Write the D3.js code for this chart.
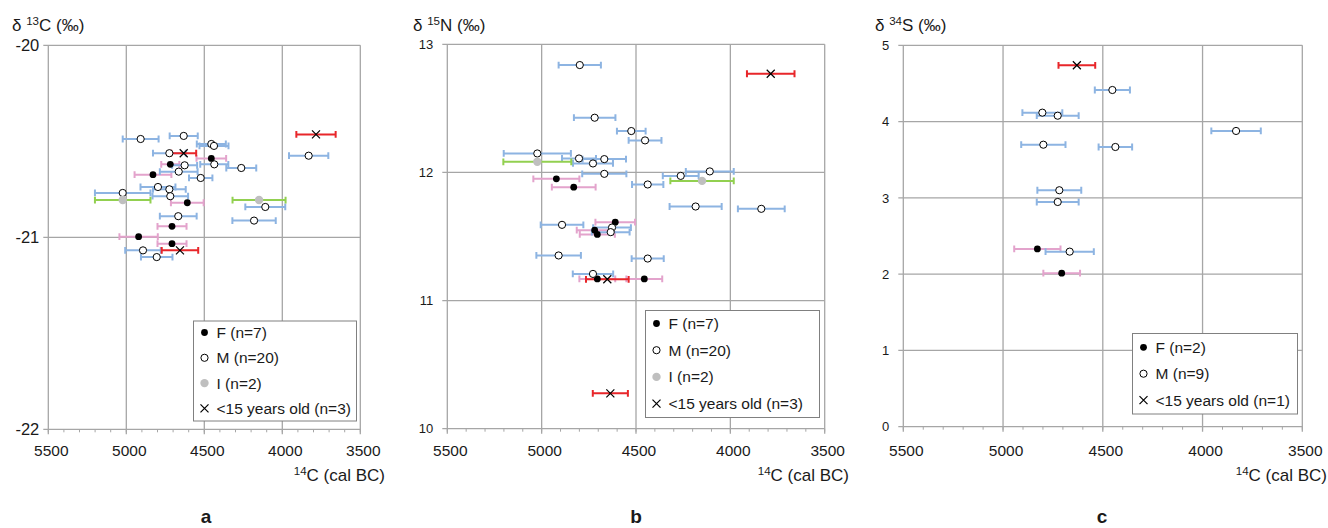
<!DOCTYPE html>
<html>
<head>
<meta charset="utf-8">
<script src="https://cdn.jsdelivr.net/npm/d3@7"></script>
<style>
  body { margin: 0; background: #fff; }
  text { font-family: "Liberation Sans", Arial, sans-serif; fill: #1a1a1a; }
</style>
</head>
<body>
<div id="chart"></div>
<script>
// Isotope values against radiocarbon dates, three panels (a, b, c).
// Each point is [cal BC, value, half-width of the date range].

////////////////////////////////////////////////////////////////////////
// Panel a: d13C

let c13F = [[4455, -20.589, 95], [4718, -20.62, 58], [4829, -20.674, 118],
            [4609, -20.82, 105], [4707, -20.943, 93], [4921, -20.997, 123],
            [4707, -21.033, 93]];
let c13M = [[4908, -20.488, 115], [4632, -20.472, 90], [4455, -20.514, 93],
            [4438, -20.524, 93], [4724, -20.562, 105], [3831, -20.575, 126],
            [4626, -20.625, 80], [4436, -20.62, 90], [4263, -20.639, 96],
            [4664, -20.658, 121], [4523, -20.691, 75], [4797, -20.738, 112],
            [4724, -20.75, 105], [5023, -20.769, 178], [4718, -20.786, 114],
            [4109, -20.842, 128], [4667, -20.89, 118], [4181, -20.913, 139],
            [4893, -21.068, 114], [4805, -21.103, 101]];
let c13I = [[5023, -20.806, 178], [4149, -20.806, 170]];
let c13X = [[3784, -20.464, 126], [4632, -20.562, 80], [4656, -21.068, 117]];

////////////////////////////////////////////////////////////////////////
// Panel b: d15N

let n15F = [[4922, 11.95, 122], [4830, 11.885, 116], [4610, 11.612, 105],
            [4719, 11.549, 95], [4705, 11.516, 93], [4705, 11.169, 95],
            [4456, 11.169, 95]];
let n15M = [[4798, 12.838, 112], [4719, 12.427, 110], [4525, 12.323, 76],
            [4452, 12.25, 87], [5023, 12.148, 178], [4802, 12.109, 90],
            [4668, 12.104, 115], [4728, 12.07, 106], [4668, 11.989, 117],
            [4109, 12.008, 127], [4263, 11.973, 95], [4438, 11.906, 83],
            [4184, 11.734, 138], [3836, 11.716, 124], [4892, 11.591, 113],
            [4627, 11.57, 100], [4634, 11.534, 100], [4910, 11.352, 118],
            [4438, 11.328, 85], [4728, 11.208, 107]];
let n15I = [[5023, 12.083, 180], [4150, 11.934, 168]];
let n15X = [[3786, 12.77, 126], [4652, 11.166, 113], [4636, 10.276, 93]];

////////////////////////////////////////////////////////////////////////
// Panel c: d34S

let s34F = [[4828, 2.33, 116], [4706, 2.012, 92]];
let s34M = [[4452, 4.414, 88], [4803, 4.117, 100], [4726, 4.077, 105],
            [3832, 3.877, 124], [4798, 3.697, 111], [4437, 3.667, 84],
            [4718, 3.1, 110], [4726, 2.946, 105], [4666, 2.295, 121]];
let s34X = [[4630, 4.738, 92]];

// tick values and legend labels
let xTicks = [5500, 5000, 4500, 4000, 3500];
let xMinor = d3.range(5500, 3499, -100);
let c13Ticks = [-20, -21, -22];
let n15Ticks = [10, 11, 12, 13];
let s34Ticks = [0, 1, 2, 3, 4, 5];
let legendA = ["F (n=7)", "M (n=20)", "I (n=2)", "<15 years old (n=3)"];
let legendB = ["F (n=7)", "M (n=20)", "I (n=2)", "<15 years old (n=3)"];
let legendC = ["F (n=2)", "M (n=9)", "<15 years old (n=1)"];

////////////////////////////////////////////////////////////////////////

let barColor = { F: "#e3a3cc", M: "#8db4e2", I: "#92d050", X: "#e8262a" };
let gridColor = "#a6a6a6";

let svg = d3.select("#chart").append("svg")
  .attr("width", 1328).attr("height", 528);

// draw a marker of a given group at (x, y)
function drawMarker(g, kind, x, y) {
  if (kind === "F") {
    g.append("circle").attr("cx", x).attr("cy", y).attr("r", 3.4).attr("fill", "#000");
  } else if (kind === "M") {
    g.append("circle").attr("cx", x).attr("cy", y).attr("r", 3.6)
      .attr("fill", "#fff").attr("stroke", "#000").attr("stroke-width", 1);
  } else if (kind === "I") {
    g.append("circle").attr("cx", x).attr("cy", y).attr("r", 4.2).attr("fill", "#bfbfbf");
  } else {
    let s = 4;
    g.append("path")
      .attr("d", `M${x - s},${y - s}L${x + s},${y + s}M${x - s},${y + s}L${x + s},${y - s}`)
      .attr("stroke", "#000").attr("stroke-width", 1.2).attr("fill", "none");
  }
}

// text with a superscript part: [pre, sup, post]
function supText(g, x, y, parts, size, anchor) {
  let t = g.append("text").attr("x", x).attr("y", y)
    .attr("font-size", size).attr("text-anchor", anchor || "start");
  t.append("tspan").text(parts[0]);
  t.append("tspan").attr("font-size", size * 0.68).attr("dy", -size * 0.38).text(parts[1]);
  t.append("tspan").attr("dy", size * 0.38).text(parts[2]);
  return t;
}

function makePanel(p) {
  let g = svg.append("g");

  let xScale = d3.scaleLinear().domain([5500, 3500]).range([p.left, p.right]);
  let yScale = d3.scaleLinear().domain(p.yDomain).range([p.bottom, p.top]);

  // grid lines + frame
  g.append("g").selectAll("line").data(xTicks).enter().append("line")
    .attr("x1", d => xScale(d)).attr("x2", d => xScale(d))
    .attr("y1", p.top).attr("y2", p.bottom + 5)
    .attr("stroke", gridColor).attr("stroke-width", 1.3);
  g.append("g").selectAll("line").data(p.yTicks).enter().append("line")
    .attr("x1", p.left - 5).attr("x2", p.right)
    .attr("y1", d => yScale(d)).attr("y2", d => yScale(d))
    .attr("stroke", gridColor).attr("stroke-width", 1.3);

  // minor ticks under the x axis
  g.append("g").selectAll("line").data(xMinor).enter().append("line")
    .attr("x1", d => xScale(d)).attr("x2", d => xScale(d))
    .attr("y1", p.bottom).attr("y2", p.bottom + 3)
    .attr("stroke", gridColor).attr("stroke-width", 1);

  // tick labels
  g.append("g").selectAll("text").data(xTicks).enter().append("text")
    .attr("x", d => xScale(d) + 3).attr("y", 456)
    .attr("text-anchor", "middle").attr("font-size", 15.5)
    .text(d => d);
  g.append("g").selectAll("text").data(p.yTicks).enter().append("text")
    .attr("x", p.left - p.yPad).attr("y", d => yScale(d) + p.yFont * 0.36)
    .attr("text-anchor", "end").attr("font-size", p.yFont)
    .text(d => d);

  // error bars first, then markers
  let bars = g.append("g");
  p.series.forEach(function(s) {
    s.data.forEach(function(d) {
      let xa = xScale(d[0] + d[2]), xb = xScale(d[0] - d[2]), y = yScale(d[1]);
      bars.append("path")
        .attr("d", `M${xa},${y}H${xb}M${xa},${y - 3.4}V${y + 3.4}M${xb},${y - 3.4}V${y + 3.4}`)
        .attr("stroke", barColor[s.kind]).attr("stroke-width", 2).attr("fill", "none");
    });
  });
  let marks = g.append("g");
  p.series.forEach(function(s) {
    s.data.forEach(function(d) {
      drawMarker(marks, s.kind, xScale(d[0]), yScale(d[1]));
    });
  });

  // titles
  supText(g, p.titleX, 31, p.title, 17);
  supText(g, p.xTitleEnd, 481, ["", "14", "C (cal BC)"], 17, "end");
  g.append("text").attr("x", p.letterX).attr("y", 523)
    .attr("text-anchor", "middle").attr("font-size", 19).attr("font-weight", "bold")
    .text(p.letter);

  // legend
  let lg = g.append("g");
  lg.append("rect")
    .attr("x", p.legend.x).attr("y", p.legend.y)
    .attr("width", p.legend.w).attr("height", p.legend.h)
    .attr("fill", "#fff").attr("stroke", "#808080").attr("stroke-width", 1);
  p.series.forEach(function(s, i) {
    let cy = p.legend.y0 + i * p.legend.step;
    drawMarker(lg, s.kind, p.legend.x + 11, cy);
    lg.append("text").attr("x", p.legend.x + 23).attr("y", cy + 5.5)
      .attr("font-size", 15.5).text(p.legendLabels[i]);
  });
}

makePanel({
  left: 48.3, right: 360.3, top: 45.3, bottom: 429.3,
  yDomain: [-22, -20], yTicks: c13Ticks, yFont: 16.5, yPad: 9,
  title: ["δ ", "13", "C (‰)"], titleX: 12,
  xTitleEnd: 385, letter: "a", letterX: 206,
  series: [{ kind: "F", data: c13F }, { kind: "M", data: c13M },
           { kind: "I", data: c13I }, { kind: "X", data: c13X }],
  legendLabels: legendA,
  legend: { x: 193.5, y: 321, w: 163, h: 100, y0: 332.5, step: 25.3 }
});

makePanel({
  left: 447.3, right: 824.7, top: 44.3, bottom: 428.7,
  yDomain: [10, 13], yTicks: n15Ticks, yFont: 13, yPad: 14,
  title: ["δ ", "15", "N (‰)"], titleX: 413,
  xTitleEnd: 849, letter: "b", letterX: 636,
  series: [{ kind: "F", data: n15F }, { kind: "M", data: n15M },
           { kind: "I", data: n15I }, { kind: "X", data: n15X }],
  legendLabels: legendB,
  legend: { x: 645.5, y: 310.5, w: 174, h: 107, y0: 323.5, step: 26.7 }
});

makePanel({
  left: 903.3, right: 1302.3, top: 45.3, bottom: 426.7,
  yDomain: [0, 5], yTicks: s34Ticks, yFont: 13, yPad: 14,
  title: ["δ ", "34", "S (‰)"], titleX: 875,
  xTitleEnd: 1327, letter: "c", letterX: 1102,
  series: [{ kind: "F", data: s34F }, { kind: "M", data: s34M },
           { kind: "X", data: s34X }],
  legendLabels: legendC,
  legend: { x: 1132.5, y: 333.5, w: 165, h: 80.5, y0: 347.3, step: 26.4 }
});
</script>
</body>
</html>
